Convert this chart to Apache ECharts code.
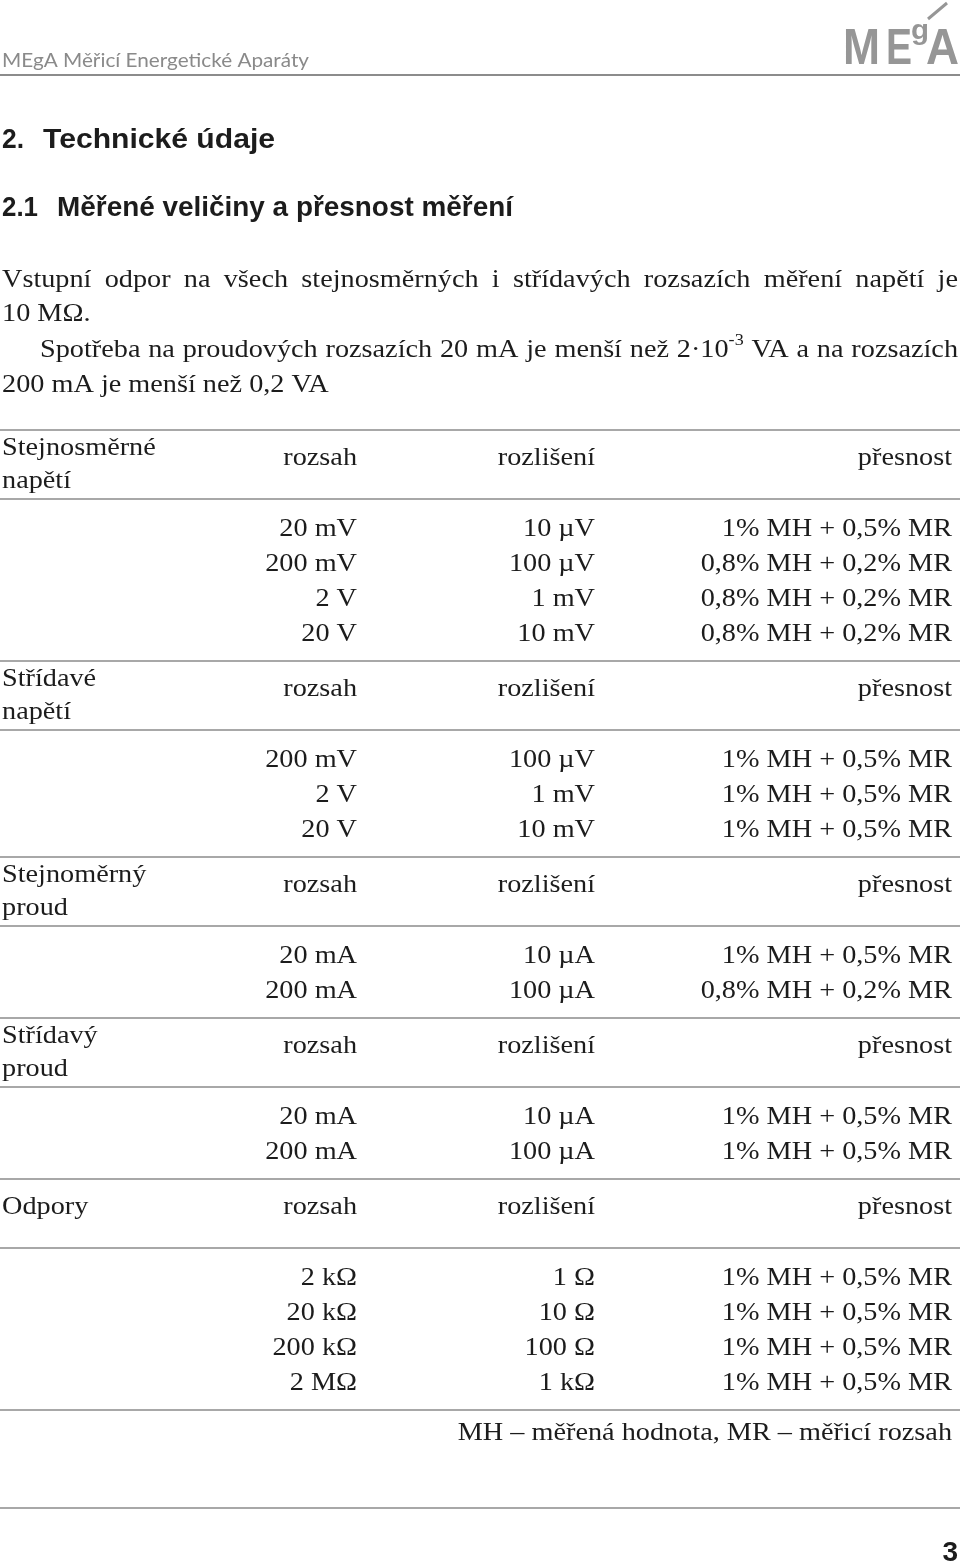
<!DOCTYPE html>
<html><head><meta charset="utf-8">
<style>html,body{margin:0;padding:0;background:#fff}#c{width:960px;height:1566px}</style>
<script src="https://cdn.jsdelivr.net/npm/echarts@6/dist/echarts.min.js"></script>
</head><body><div id="c"></div>
<script>
// ---- content ----
const headerText = 'MEgA Měřicí Energetické Aparáty';
const logoLetters = ['M', 'E', 'g', 'A'];
const chapterNumber = '2.';
const chapterTitle = 'Technické údaje';
const sectionNumber = '2.1';
const sectionTitle = 'Měřené veličiny a přesnost měření';
const paraLine1 = 'Vstupní odpor na všech stejnosměrných i střídavých rozsazích měření napětí je';
const paraLine2 = '10 MΩ.';
const paraLine3Words = ['Spotřeba', 'na', 'proudových', 'rozsazích', '20', 'mA', 'je', 'menší', 'než', '2·10', 'VA', 'a', 'na', 'rozsazích'];
const paraLine3Sup = { word: '2·10', sup: '-3' };
const paraLine4 = '200 mA je menší než 0,2 VA';
const columnHeads = ['rozsah', 'rozlišení', 'přesnost'];
const sectionNames = [['Stejnosměrné', 'napětí'], ['Střídavé', 'napětí'], ['Stejnoměrný', 'proud'], ['Střídavý', 'proud'], ['Odpory']];
const dcVoltageRanges = ['20 mV', '200 mV', '2 V', '20 V'];
const dcVoltageResolution = ['10 µV', '100 µV', '1 mV', '10 mV'];
const dcVoltageAccuracy = ['1% MH + 0,5% MR', '0,8% MH + 0,2% MR', '0,8% MH + 0,2% MR', '0,8% MH + 0,2% MR'];
const acVoltageRanges = ['200 mV', '2 V', '20 V'];
const acVoltageResolution = ['100 µV', '1 mV', '10 mV'];
const acVoltageAccuracy = ['1% MH + 0,5% MR', '1% MH + 0,5% MR', '1% MH + 0,5% MR'];
const dcCurrentRanges = ['20 mA', '200 mA'];
const dcCurrentResolution = ['10 µA', '100 µA'];
const dcCurrentAccuracy = ['1% MH + 0,5% MR', '0,8% MH + 0,2% MR'];
const acCurrentRanges = ['20 mA', '200 mA'];
const acCurrentResolution = ['10 µA', '100 µA'];
const acCurrentAccuracy = ['1% MH + 0,5% MR', '1% MH + 0,5% MR'];
const resistanceRanges = ['2 kΩ', '20 kΩ', '200 kΩ', '2 MΩ'];
const resistanceResolution = ['1 Ω', '10 Ω', '100 Ω', '1 kΩ'];
const resistanceAccuracy = ['1% MH + 0,5% MR', '1% MH + 0,5% MR', '1% MH + 0,5% MR', '1% MH + 0,5% MR'];
const footnote = 'MH – měřená hodnota, MR – měřicí rozsah';
const pageNumber = '3';

// ---- layout ----
const SERIF = 'Liberation Serif', SANS = 'Liberation Sans', HEADSANS = 'Lato';
const INK = '#1c1c1c', GRAY = '#8a8a8a', RULE = '#a8a8a8';
const BODY = 25, SX = 1.13;
const cv = document.createElement('canvas').getContext('2d');
function measure(t, size, fam, weight) { cv.font = (weight || 'normal') + ' ' + size + 'px "' + fam + '"'; return cv.measureText(t).width; }
const G = [];
function txt(x, y, t, o) {
  o = o || {};
  const size = o.size || BODY, fam = o.fam || SERIF, weight = o.weight || 'normal', align = o.align || 'left';
  const el = {
    type: 'text', x: x, y: y, silent: true,
    style: {
      text: t, fill: o.fill || INK, fontSize: size, fontFamily: fam, fontWeight: weight,
      font: weight + ' ' + size + 'px "' + fam + '"',
      align: align, verticalAlign: 'middle', textAlign: align, textVerticalAlign: 'middle'
    }
  };
  if (fam === SERIF) el.scaleX = SX;
  if (o.fitWidth) { el.scaleX = o.fitWidth / measure(t, size, fam, weight); }
  if (o.scaleY) el.scaleY = o.scaleY;
  G.push(el);
}
function rule(y, color, w) { G.push({ type: 'line', silent: true, shape: { x1: 0, y1: y, x2: 960, y2: y }, style: { stroke: color || RULE, lineWidth: w || 2 } }); }
function justify(words, x0, x1, y, supInfo) {
  const supSize = 16;
  const widths = words.map(w => SX * (measure(w, BODY, SERIF) + (supInfo && w === supInfo.word ? measure(supInfo.sup, supSize, SERIF) : 0)));
  const total = widths.reduce((a, b) => a + b, 0);
  const gap = (x1 - x0 - total) / (words.length - 1);
  let x = x0;
  words.forEach((w, i) => {
    txt(x, y, w);
    if (supInfo && w === supInfo.word) txt(x + SX * measure(w, BODY, SERIF), y - 9, supInfo.sup, { size: supSize });
    x += widths[i] + gap;
  });
}

// header
txt(2, 61, headerText, { size: 19, fam: HEADSANS, fill: GRAY, fitWidth: 307 });
rule(75, '#8c8c8c', 2);
// logo
txt(843, 50, logoLetters[0], { size: 48, fam: SANS, weight: 'bold', fill: '#969696', fitWidth: 37, scaleY: 1.05 });
txt(886, 50, logoLetters[1], { size: 48, fam: SANS, weight: 'bold', fill: '#969696', fitWidth: 26, scaleY: 1.05 });
txt(911, 31, logoLetters[2], { size: 28, fam: SANS, weight: 'bold', fill: '#969696', fitWidth: 18 });
txt(926, 50, logoLetters[3], { size: 48, fam: SANS, weight: 'bold', fill: '#969696', fitWidth: 33, scaleY: 1.05 });
G.push({ type: 'line', silent: true, shape: { x1: 928, y1: 19, x2: 947, y2: 3 }, style: { stroke: '#969696', lineWidth: 3 } });

// headings
txt(2, 140, chapterNumber, { size: 28, fam: SANS, weight: 'bold', fitWidth: 22 });
txt(43, 140, chapterTitle, { size: 28, fam: SANS, weight: 'bold', fitWidth: 232 });
txt(2, 209, sectionNumber, { size: 27, fam: SANS, weight: 'bold', fitWidth: 36 });
txt(57, 209, sectionTitle, { size: 27, fam: SANS, weight: 'bold', fitWidth: 456 });

// paragraph
justify(paraLine1.split(' '), 2, 958, 280);
txt(2, 314, paraLine2);
justify(paraLine3Words, 40, 958, 350, paraLine3Sup);
txt(2, 385, paraLine4);

// table
const COLX = [357, 595, 952];
const sections = [
  [dcVoltageRanges, dcVoltageResolution, dcVoltageAccuracy],
  [acVoltageRanges, acVoltageResolution, acVoltageAccuracy],
  [dcCurrentRanges, dcCurrentResolution, dcCurrentAccuracy],
  [acCurrentRanges, acCurrentResolution, acCurrentAccuracy],
  [resistanceRanges, resistanceResolution, resistanceAccuracy]
];
let secTop = 430;
sections.forEach((cols, s) => {
  rule(secTop);
  const names = sectionNames[s];
  if (names.length === 2) { txt(2, secTop + 18, names[0]); txt(2, secTop + 51, names[1]); }
  else txt(2, secTop + 28, names[0]);
  columnHeads.forEach((h, c) => txt(COLX[c], secTop + 28, h, { align: 'right' }));
  const mid = secTop + 69;
  rule(mid);
  const y = mid + 30;
  cols[0].forEach((_, r) => {
    cols.forEach((col, c) => txt(COLX[c], y + r * 35, col[r], { align: 'right' }));
  });
  secTop = y + (cols[0].length - 1) * 35 + 27;
});
rule(secTop);
txt(952, secTop + 23, footnote, { align: 'right' });
rule(1508);
txt(958, 1553, pageNumber, { size: 28, fam: SANS, weight: 'bold', align: 'right' });

const chart = echarts.init(document.getElementById('c'), null, { renderer: 'canvas' });
chart.setOption({ backgroundColor: '#fff', animation: false, graphic: { elements: G } });
</script></body></html>
